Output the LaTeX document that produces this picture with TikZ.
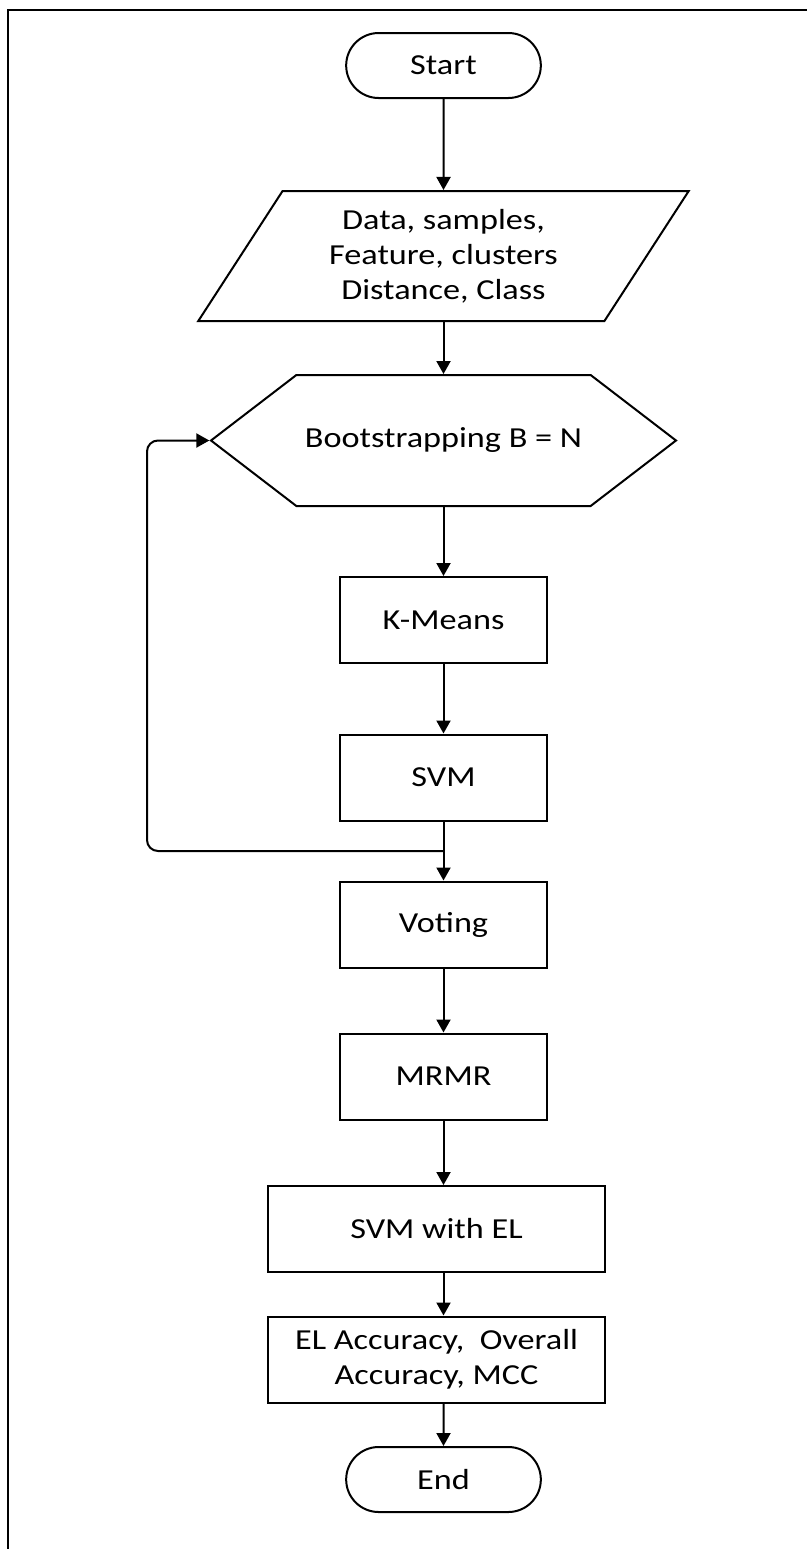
\documentclass[tikz,border=0pt]{standalone}
\usepackage{fontspec}
\setmainfont{Carlito}[FakeStretch=1.18]
\usetikzlibrary{arrows.meta,shapes.geometric,shapes.misc,shapes.symbols}

\begin{document}
\begin{tikzpicture}[x=0.5pt,y=-0.5pt]
\tikzset{every node/.style={font=\fontsize{14.5}{17.5}\selectfont,align=center,line width=1pt}}
\tikzset{term/.style={rounded rectangle,draw,minimum width=104pt,minimum height=32.5pt}}
\tikzset{io/.style={trapezium,trapezium left angle=59.4,trapezium right angle=120.6,draw,minimum width=245.5pt,minimum height=65pt,trapezium stretches=true}}
\tikzset{prep/.style={signal,signal to=east and west,signal pointer angle=75,draw,minimum width=232.5pt,minimum height=65.5pt}}
\tikzset{proc/.style={rectangle,draw,minimum width=103.5pt,minimum height=43pt}}
\tikzset{arr/.style={-{Triangle[length=6.5pt,width=7pt]},line width=1pt}}
\useasboundingbox (0,0) rectangle (807,1549);
\draw[line width=1pt] (7.5,1549) -- (7.5,10) -- (807,10);
\node[term] (start) at (443.5,65.5) {Start};
\node[io] (data) at (443.5,256) {Data, samples,\\Feature, clusters\\Distance, Class};
\node[prep] (boot) at (443.5,440.5) {Bootstrapping B = N};
\node[proc] (kmeans) at (443.5,620) {K-Means};
\node[proc] (svm) at (443.5,777.5) {SVM};
\node[proc] (vote) at (443.5,924.5) {Voting};
\node[proc] (mrmr) at (443.5,1076.5) {MRMR};
\node[proc,minimum width=168.5pt] (svmel) at (436.5,1229) {SVM with EL};
\node[proc,minimum width=168.5pt] (acc) at (436.5,1359.5) {EL Accuracy,\ \ Overall\\Accuracy, MCC};
\node[term] (end) at (443.5,1479.5) {End};
\coordinate (split) at (443.5,851);
\coordinate (back) at (147,851);
\draw[arr] (start) -- (data);
\draw[arr] (data.south -| start) -- (boot.north -| start);
\draw[arr] (boot.south -| start) -- (kmeans);
\draw[arr] (kmeans) -- (svm);
\draw[arr] (svm) -- (vote);
\draw[arr,rounded corners=5.5pt] (split) -- (back) |- (boot.west);
\draw[arr] (vote) -- (mrmr);
\draw[arr] (mrmr.south) -- (svmel.north -| mrmr);
\draw[arr] (svmel.south -| mrmr) -- (acc.north -| mrmr);
\draw[arr] (acc.south -| end) -- (end);
\end{tikzpicture}
\end{document}
